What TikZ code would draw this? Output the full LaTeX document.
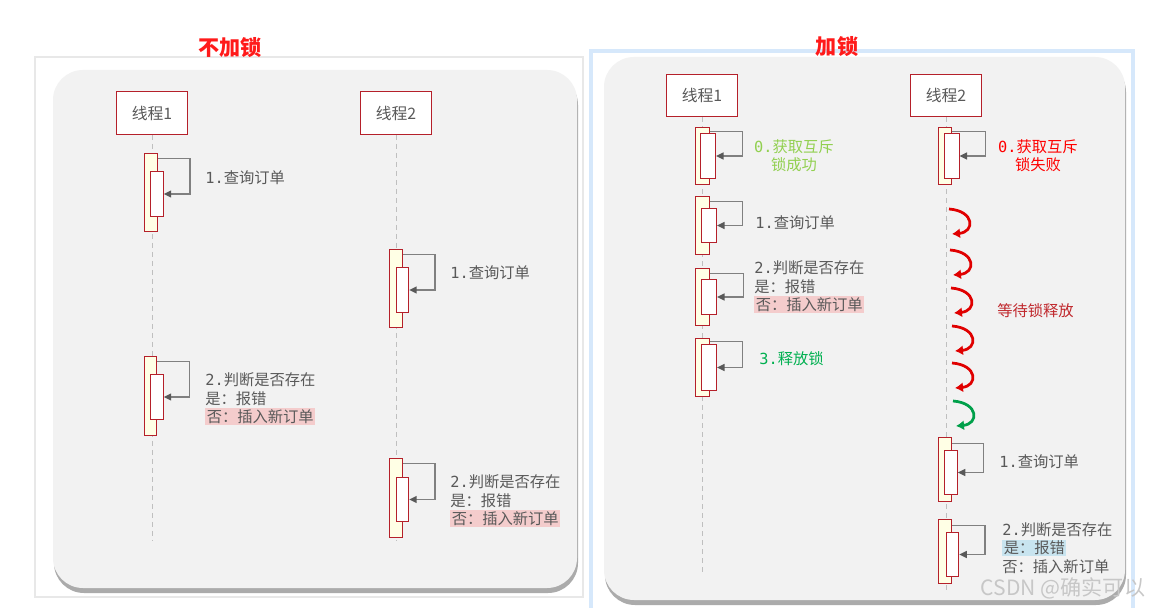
\documentclass[tikz,border=0pt]{standalone}
\usepackage{fontspec}
\setmainfont{Noto Sans CJK SC}
\newfontfamily\monofont{DejaVu Sans Mono}
\usepackage{xcolor}
\usepackage{tikz}
\usetikzlibrary{arrows.meta,shadows}
\definecolor{LockRed}{HTML}{FF1A1A}
\definecolor{BarRed}{HTML}{B5202A}
\definecolor{BarFill}{HTML}{FFFFE5}
\definecolor{PanelGray}{HTML}{F2F2F2}
\definecolor{Ink}{HTML}{595959}
\definecolor{LoopGray}{HTML}{808080}
\definecolor{LifeGray}{HTML}{BFBFBF}
\definecolor{NoPink}{HTML}{F4CCCC}
\definecolor{YesBlue}{HTML}{C8E4EF}
\definecolor{OkGreen}{HTML}{92D050}
\definecolor{FreeGreen}{HTML}{00B050}
\definecolor{FailRed}{HTML}{FF0000}
\definecolor{WaitRed}{HTML}{C0282D}
\definecolor{SpinRed}{HTML}{E00000}
\definecolor{SpinGreen}{HTML}{00A04A}
\definecolor{GlowBlue}{HTML}{D6E8FB}
\newcommand{\hlno}[1]{{\setlength{\fboxsep}{0.8pt}\colorbox{NoPink}{#1}}}
\newcommand{\hlyes}[1]{{\setlength{\fboxsep}{0.8pt}\colorbox{YesBlue}{#1}}}

\begin{document}
\begin{tikzpicture}[
  x=0.02cm,y=-0.02cm,
  title/.style={font=\fontsize{12}{14}\selectfont\bfseries,text=LockRed},
  thread/.style={draw=BarRed,line width=0.025cm,fill=white,minimum width=1.43cm,minimum height=0.85cm,inner sep=0pt,font=\fontsize{9}{11}\selectfont,text=Ink},
  life/.style={draw=LifeGray,line width=0.02cm,dash pattern=on 0.1cm off 0.08cm},
  bar/.style={draw=BarRed,line width=0.02cm,fill=BarFill,minimum width=0.26cm,inner sep=0pt},
  barin/.style={draw=BarRed,line width=0.02cm,fill=white,minimum width=0.25cm,inner sep=0pt},
  loop/.style={-{Triangle[length=0.15cm,width=0.14cm,color=Ink]},draw=LoopGray,line width=0.03cm},
  note/.style={anchor=west,align=left,inner sep=0pt,text=Ink,font=\fontsize{8.7}{10.4}\selectfont},
  spin/.style={-{Latex[length=0.16cm,width=0.2cm]},line width=0.055cm},
  panel/.style={fill=PanelGray,rounded corners=0.6cm,drop shadow={shadow xshift=0.02cm,shadow yshift=-0.1cm,fill=black!55,opacity=0.6}}
]
\useasboundingbox (0,0) rectangle (1154,608);

% panels
\draw[draw=black!9,line width=0.04cm,fill=white] (35,57) rectangle (583,597);
\draw[draw=GlowBlue,line width=0.07cm,fill=white] (591,51) rectangle (1133,615);
\fill[panel] (53,70) rectangle (577,588);
\fill[panel] (604,57) rectangle (1125,600);

% without lock
\node[title] (titleFree) at (230,48) {不加锁};
\node[thread] (thrOneFree) at (152,113) {线程1};
\node[thread] (thrTwoFree) at (396,113) {线程2};
\coordinate (endOneFree) at (152,540);
\coordinate (endTwoFree) at (396,540);
\draw[life] (thrOneFree) -- (endOneFree);
\draw[life] (thrTwoFree) -- (endTwoFree);

\node[bar,minimum height=1.58cm] (queryOneFree) at (151,192.5) {};
\node[barin,minimum height=0.92cm] (queryOneFreeIn) at (157,194) {};
\draw[loop] ([yshift=-0.12cm]queryOneFree.north east) -- ++(32,0) |- (queryOneFreeIn.east);
\node[note] (queryOneFreeTxt) at (205,178) {{\monofont 1.}查询订单};

\node[bar,minimum height=1.58cm] (queryTwoFree) at (396,288.5) {};
\node[barin,minimum height=0.92cm] (queryTwoFreeIn) at (402.5,290) {};
\draw[loop] ([yshift=-0.12cm]queryTwoFree.north east) -- ++(32,0) |- (queryTwoFreeIn.east);
\node[note] (queryTwoFreeTxt) at (450,273) {{\monofont 1.}查询订单};

\node[bar,minimum height=1.6cm] (checkOneFree) at (150.5,396) {};
\node[barin,minimum height=0.92cm] (checkOneFreeIn) at (157,397) {};
\draw[loop] ([yshift=-0.12cm]checkOneFree.north east) -- ++(32,0) |- (checkOneFreeIn.east);
\node[note] (checkOneFreeTxt) at (205,399) {{\monofont 2.}判断是否存在\\是：报错\\\hlno{否：插入新订单}};

\node[bar,minimum height=1.6cm] (checkTwoFree) at (396,498) {};
\node[barin,minimum height=0.9cm] (checkTwoFreeIn) at (402.5,499.5) {};
\draw[loop] ([yshift=-0.12cm]checkTwoFree.north east) -- ++(32,0) |- (checkTwoFreeIn.east);
\node[note] (checkTwoFreeTxt) at (450,501) {{\monofont 2.}判断是否存在\\是：报错\\\hlno{否：插入新订单}};

% with lock
\node[title] (titleLock) at (837,47) {加锁};
\node[thread] (thrOneLock) at (702,95.5) {线程1};
\node[thread] (thrTwoLock) at (946,95.5) {线程2};
\coordinate (endOneLock) at (702,572);
\coordinate (endTwoLock) at (946,592);
\draw[life] (thrOneLock) -- (endOneLock);
\draw[life] (thrTwoLock) -- (endTwoLock);

\node[bar,minimum width=0.28cm,minimum height=1.16cm] (getOneLock) at (702,156) {};
\node[barin,minimum width=0.3cm,minimum height=0.92cm] (getOneLockIn) at (708,156) {};
\draw[loop] ([yshift=-0.1cm]getOneLock.north east) -- ++(33,0) |- (getOneLockIn.east);
\node[note,anchor=center,align=center,text=OkGreen] (getOneLockTxt) at (794,156) {{\monofont 0.}获取互斥\\锁成功};

\node[bar,minimum width=0.28cm,minimum height=1.18cm] (queryOneLock) at (702,225.5) {};
\node[barin,minimum width=0.3cm,minimum height=0.7cm] (queryOneLockIn) at (709,225.5) {};
\draw[loop] ([yshift=-0.12cm]queryOneLock.north east) -- ++(33,0) |- (queryOneLockIn.east);
\node[note] (queryOneLockTxt) at (755,223) {{\monofont 1.}查询订单};

\node[bar,minimum width=0.28cm,minimum height=1.16cm] (checkOneLock) at (702,297) {};
\node[barin,minimum width=0.3cm,minimum height=0.72cm] (checkOneLockIn) at (709,297) {};
\draw[loop] ([yshift=-0.12cm]checkOneLock.north east) -- ++(34,0) |- (checkOneLockIn.east);
\node[note] (checkOneLockTxt) at (754,287) {{\monofont 2.}判断是否存在\\是：报错\\\hlno{否：插入新订单}};

\node[bar,minimum width=0.28cm,minimum height=1.18cm] (freeOneLock) at (702,367.5) {};
\node[barin,minimum width=0.3cm,minimum height=0.94cm] (freeOneLockIn) at (709,367.5) {};
\draw[loop] ([yshift=-0.08cm]freeOneLock.north east) -- ++(33,0) |- (freeOneLockIn.east);
\node[note,text=FreeGreen] (freeOneLockTxt) at (759,359) {{\monofont 3.}释放锁};

\node[bar,minimum width=0.27cm,minimum height=1.16cm] (getTwoLock) at (945,156) {};
\node[barin,minimum width=0.3cm,minimum height=0.92cm] (getTwoLockIn) at (951.5,156) {};
\draw[loop] ([yshift=-0.1cm]getTwoLock.north east) -- ++(33,0) |- (getTwoLockIn.east);
\node[note,anchor=center,align=center,text=FailRed] (getTwoLockTxt) at (1038,156) {{\monofont 0.}获取互斥\\锁失败};

% waiting
\draw[spin,draw=SpinRed] (949,209) .. controls (975,211) and (975,232) .. (952,234);
\draw[spin,draw=SpinRed] (950,250) .. controls (976,252) and (976,273) .. (953,275);
\draw[spin,draw=SpinRed] (951,288) .. controls (977,290) and (977,311) .. (954,313);
\draw[spin,draw=SpinRed] (952,326) .. controls (978,328) and (978,349) .. (955,351);
\draw[spin,draw=SpinRed] (952,363) .. controls (978,365) and (978,386) .. (955,388);
\draw[spin,draw=SpinGreen] (953,401) .. controls (979,403) and (979,424) .. (956,426);
\node[note,text=WaitRed] (waitTxt) at (997,311) {等待锁释放};

\node[bar,minimum height=1.3cm] (queryTwoLock) at (944.5,469.5) {};
\node[barin,minimum height=0.9cm] (queryTwoLockIn) at (951,472.5) {};
\draw[loop] ([yshift=-0.14cm]queryTwoLock.north east) -- ++(32,0) |- (queryTwoLockIn.east);
\node[note] (queryTwoLockTxt) at (999,462) {{\monofont 1.}查询订单};

\node[bar,minimum height=1.3cm] (checkTwoLock) at (945,551.5) {};
\node[barin,minimum height=0.9cm] (checkTwoLockIn) at (952.5,554.5) {};
\draw[loop] ([yshift=-0.14cm]checkTwoLock.north east) -- ++(33,0) |- (checkTwoLockIn.east);
\node[note] (checkTwoLockTxt) at (1002,548) {{\monofont 2.}判断是否存在\\\hlyes{是：报错}\\否：插入新订单};

\node[font=\fontsize{12}{14}\selectfont,text=black!22] (markTxt) at (1063,588) {CSDN @确实可以};
\end{tikzpicture}
\end{document}
